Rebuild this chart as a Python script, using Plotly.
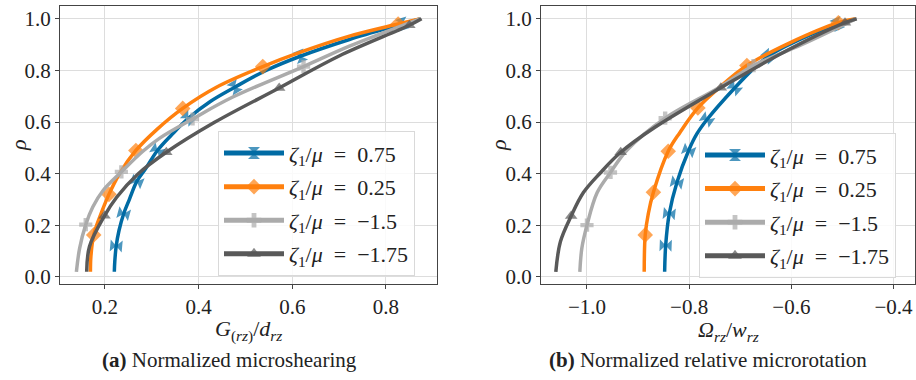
import plotly.graph_objects as go

# ---- data -------------------------------------------------------------
LABELS = ["0.75", "0.25", "\u22121.5", "\u22121.75"]
COLORS = ["#006BA4", "#FF800E", "#ABABAB", "#595959"]
SYMBOLS = ["bowtie", "diamond", "cross", "triangle-up"]
MARKER_SIZES = [12, 12, 11, 11]

# (a) normalized microshearing G_(rz)/d_rz versus rho
A_RHO_075 = [0.02, 0.06, 0.12, 0.18, 0.245, 0.30, 0.37, 0.42, 0.49, 0.55, 0.615, 0.68, 0.735, 0.80, 0.855, 0.92, 0.98, 1.0]
A_G_075 = [0.220, 0.221, 0.224, 0.230, 0.240, 0.252, 0.268, 0.287, 0.312, 0.342, 0.378, 0.425, 0.477, 0.544, 0.617, 0.722, 0.835, 0.873]
A_MARK_075 = [0.12, 0.245, 0.37, 0.49, 0.615, 0.735, 0.855, 0.98]

A_RHO_025 = [0.02, 0.08, 0.163, 0.233, 0.32, 0.40, 0.49, 0.57, 0.653, 0.735, 0.815, 0.87, 0.933, 0.98, 1.0]
A_G_025 = [0.169, 0.170, 0.176, 0.189, 0.2085, 0.231, 0.266, 0.31, 0.366, 0.438, 0.537, 0.616, 0.722, 0.826, 0.872]
A_MARK_025 = [0.163, 0.32, 0.49, 0.653, 0.815, 0.98]

A_RHO_M15 = [0.02, 0.112, 0.203, 0.271, 0.335, 0.407, 0.487, 0.538, 0.612, 0.697, 0.815, 0.894, 1.0]
A_G_M15 = [0.139, 0.146, 0.159, 0.174, 0.196, 0.235, 0.281, 0.317, 0.387, 0.473, 0.624, 0.722, 0.873]
A_MARK_M15 = [0.203, 0.407, 0.612, 0.815]

A_RHO_M175 = [0.02, 0.118, 0.237, 0.309, 0.398, 0.483, 0.60, 0.732, 0.856, 0.975, 1.0]
A_G_M175 = [0.161, 0.167, 0.199, 0.225, 0.270, 0.331, 0.435, 0.572, 0.700, 0.850, 0.876]
A_MARK_M175 = [0.237, 0.483, 0.732, 0.975]

# (b) normalized relative microrotation Omega_rz/w_rz versus rho
B_RHO_075 = [0.02, 0.122, 0.245, 0.366, 0.49, 0.554, 0.61, 0.732, 0.807, 0.855, 0.895, 0.98, 1.0]
B_W_075 = [-0.848, -0.846, -0.839, -0.824, -0.801, -0.785, -0.765, -0.711, -0.674, -0.645, -0.610, -0.51, -0.474]
B_MARK_075 = [0.122, 0.245, 0.366, 0.49, 0.61, 0.732, 0.855, 0.98]

B_RHO_025 = [0.02, 0.163, 0.245, 0.328, 0.487, 0.56, 0.655, 0.737, 0.819, 0.908, 0.985, 1.0]
B_W_025 = [-0.888, -0.886, -0.880, -0.870, -0.841, -0.818, -0.783, -0.739, -0.687, -0.602, -0.508, -0.474]
B_MARK_025 = [0.163, 0.328, 0.487, 0.655, 0.819, 0.985]

B_RHO_M15 = [0.02, 0.112, 0.201, 0.327, 0.405, 0.491, 0.615, 0.733, 0.819, 0.90, 1.0]
B_W_M15 = [-1.014, -1.010, -1.0, -0.980, -0.954, -0.922, -0.847, -0.742, -0.674, -0.580, -0.474]
B_MARK_M15 = [0.201, 0.405, 0.615, 0.819]

B_RHO_M175 = [0.02, 0.137, 0.236, 0.327, 0.403, 0.483, 0.58, 0.733, 0.86, 0.985, 1.0]
B_W_M175 = [-1.061, -1.052, -1.031, -1.007, -0.974, -0.934, -0.867, -0.738, -0.625, -0.495, -0.472]
B_MARK_M175 = [0.236, 0.483, 0.733, 0.985]

PANEL_A = [(A_G_075, A_RHO_075, A_MARK_075), (A_G_025, A_RHO_025, A_MARK_025),
           (A_G_M15, A_RHO_M15, A_MARK_M15), (A_G_M175, A_RHO_M175, A_MARK_M175)]
PANEL_B = [(B_W_075, B_RHO_075, B_MARK_075), (B_W_025, B_RHO_025, B_MARK_025),
           (B_W_M15, B_RHO_M15, B_MARK_M15), (B_W_M175, B_RHO_M175, B_MARK_M175)]

SERIF = "Liberation Serif"
W, H = 916, 380

fig = go.Figure()


def add_panel(series, xa, ya, legend):
    for i, (xs, rho, marks) in enumerate(series):
        sizes = [MARKER_SIZES[i] if r in marks else 0 for r in rho]
        marker = dict(symbol=SYMBOLS[i], size=sizes, color=COLORS[i], line=dict(width=0))
        if SYMBOLS[i] == "bowtie":
            # blue markers follow the direction of the curve
            marker["angleref"] = "previous"
        fig.add_trace(go.Scatter(
            x=xs, y=rho, xaxis=xa, yaxis=ya, legend=legend,
            mode="lines+markers",
            name="<i>\u03b6</i><sub>1</sub>/<i>\u03bc</i>\u2002=\u2002" + LABELS[i],
            line=dict(color=COLORS[i], width=3.5, shape="spline", smoothing=1.0),
            marker=marker,
            legendgroup=f"{legend}{i}",
            hoverinfo="skip",
        ))


add_panel(PANEL_A, "x", "y", "legend")
add_panel(PANEL_B, "x2", "y2", "legend2")


# pixel helpers for placing axes and text
def px_x(p):
    return p / W


def px_y(p):
    return 1 - p / H


axis_common = dict(
    showgrid=True, gridcolor="#dddddd", gridwidth=1,
    showline=True, mirror=True, linecolor="#444444", linewidth=1,
    ticks="outside", ticklen=4, tickcolor="#444444",
    tickfont=dict(family=SERIF, size=21, color="#222222"),
    zeroline=False, tickformat=".1f", dtick=0.2,
)

fig.update_layout(
    width=W, height=H,
    margin=dict(l=0, r=0, t=0, b=0),
    paper_bgcolor="white", plot_bgcolor="white",
    xaxis=dict(domain=[px_x(60), px_x(437)], range=[0.104, 0.909], anchor="y", **axis_common),
    yaxis=dict(domain=[px_y(288), px_y(6)], range=[-0.028, 1.05], anchor="x", **axis_common),
    xaxis2=dict(domain=[px_x(541), px_x(915)], range=[-1.09, -0.358], anchor="y2", **axis_common),
    yaxis2=dict(domain=[px_y(288), px_y(6)], range=[-0.028, 1.05], anchor="x2", **axis_common),
)

legend_common = dict(
    xanchor="left", yanchor="top",
    bgcolor="rgba(255,255,255,0.85)", bordercolor="#d9d9d9", borderwidth=1,
    font=dict(family=SERIF, size=22, color="#222222"),
    itemsizing="constant", tracegroupgap=2, itemwidth=60,
)
fig.update_layout(
    legend=dict(x=px_x(218), y=px_y(133), **legend_common),
    legend2=dict(x=px_x(699), y=px_y(135), **legend_common),
)

text_font = dict(family=SERIF, size=22, color="#222222")
annotations = [
    dict(text="<i>G</i><sub>(<i>rz</i>)</sub>/<i>d</i><sub><i>rz</i></sub>",
         x=px_x(248.5), y=px_y(335)),
    dict(text="<i>\u03a9</i><sub><i>rz</i></sub>/<i>w</i><sub><i>rz</i></sub>",
         x=px_x(728), y=px_y(335)),
    dict(text="<i>\u03c1</i>", x=px_x(18), y=px_y(147), textangle=-90),
    dict(text="<i>\u03c1</i>", x=px_x(498), y=px_y(147), textangle=-90),
]
captions = [
    dict(text="<b>(a)</b> Normalized microshearing", x=px_x(230), y=px_y(365)),
    dict(text="<b>(b)</b> Normalized relative microrotation", x=px_x(708), y=px_y(365)),
]
for a in annotations:
    fig.add_annotation(xref="paper", yref="paper", showarrow=False,
                       xanchor="center", yanchor="middle", font=text_font, **a)
for a in captions:
    fig.add_annotation(xref="paper", yref="paper", showarrow=False,
                       xanchor="center", yanchor="middle",
                       font=dict(family=SERIF, size=21, color="#222222"), **a)

fig.write_html("out.html")
